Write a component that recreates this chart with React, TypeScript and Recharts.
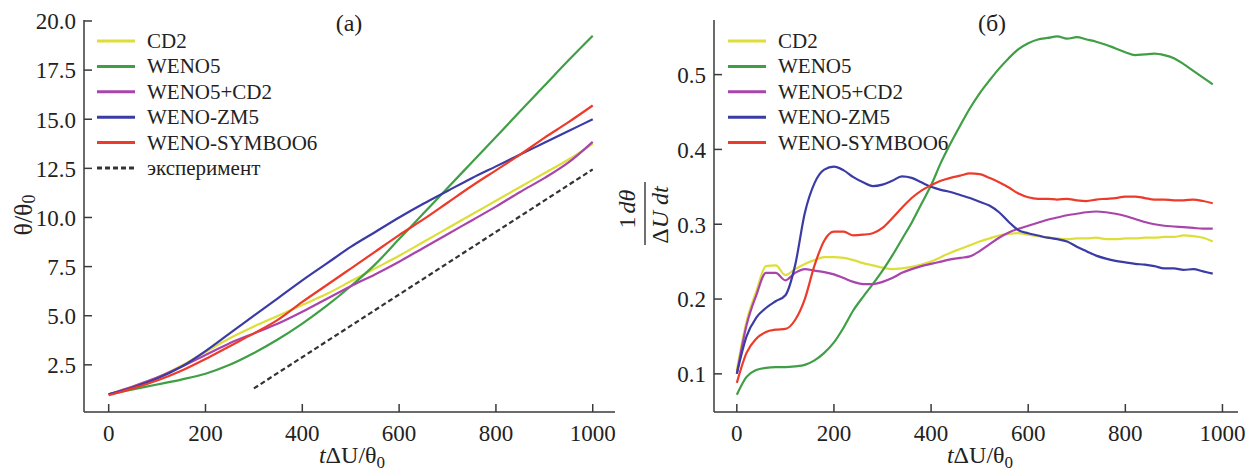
import { Legend, Line, LineChart, XAxis, YAxis } from "recharts";

// ---- panel (a): θ/θ0 vs tΔU/θ0 ----
const leftT = [0, 50, 100, 150, 200, 250, 300, 350, 400, 450, 500, 550, 600, 650, 700, 750, 800, 850, 900, 950, 1000];
const cd2Left = [1.0, 1.4, 1.85, 2.45, 3.15, 3.85, 4.45, 5.0, 5.55, 6.1, 6.75, 7.4, 8.05, 8.75, 9.45, 10.15, 10.85, 11.55, 12.25, 12.95, 13.75];
const weno5Left = [1.0, 1.25, 1.5, 1.75, 2.05, 2.5, 3.1, 3.8, 4.6, 5.5, 6.5, 7.6, 8.9, 10.2, 11.5, 12.8, 14.1, 15.4, 16.7, 18.0, 19.25];
const wenoCd2Left = [1.0, 1.4, 1.85, 2.4, 3.0, 3.6, 4.1, 4.6, 5.2, 5.85, 6.5, 7.1, 7.75, 8.45, 9.15, 9.85, 10.55, 11.3, 12.0, 12.8, 13.85];
const zm5Left = [1.0, 1.35, 1.8, 2.4, 3.2, 4.1, 5.0, 5.9, 6.8, 7.65, 8.5, 9.25, 10.0, 10.7, 11.35, 12.0, 12.6, 13.2, 13.8, 14.4, 15.0];
const symbooLeft = [0.95, 1.3, 1.7, 2.2, 2.8, 3.45, 4.1, 4.8, 5.7, 6.55, 7.4, 8.25, 9.1, 9.9, 10.75, 11.6, 12.4, 13.2, 14.05, 14.85, 15.7];
const expT = [300, 1000];
const expLeft = [1.3, 12.45];
const leftTicksX = [0, 200, 400, 600, 800, 1000];
const leftTicksY = [2.5, 5, 7.5, 10, 12.5, 15, 17.5, 20];

// ---- panel (б): (1/ΔU) dθ/dt ----
const rightT = [0, 20, 40, 60, 80, 100, 120, 140, 160, 180, 200, 220, 240, 260, 280, 300, 320, 340, 360, 380, 400, 420, 440, 460, 480, 500, 520, 540, 560, 580, 600, 620, 640, 660, 680, 700, 720, 740, 760, 780, 800, 820, 840, 860, 880, 900, 920, 940, 960, 980];
const cd2Right = [0.105, 0.17, 0.21, 0.244, 0.245, 0.232, 0.24, 0.247, 0.252, 0.256, 0.256, 0.255, 0.252, 0.248, 0.245, 0.242, 0.24, 0.241, 0.243, 0.246, 0.25, 0.256, 0.262, 0.267, 0.272, 0.277, 0.281, 0.285, 0.287, 0.288, 0.286, 0.284, 0.282, 0.281, 0.28, 0.281, 0.281, 0.282, 0.28, 0.28, 0.281, 0.281, 0.282, 0.282, 0.283, 0.283, 0.285, 0.284, 0.282, 0.277];
const weno5Right = [0.072, 0.096, 0.105, 0.108, 0.109, 0.109, 0.11, 0.112, 0.118, 0.128, 0.142, 0.162, 0.185, 0.203, 0.22, 0.238, 0.258, 0.28, 0.302, 0.327, 0.352, 0.382, 0.408, 0.432, 0.455, 0.475, 0.492, 0.508, 0.522, 0.534, 0.542, 0.547, 0.549, 0.551, 0.548, 0.55, 0.547, 0.544, 0.54, 0.535, 0.53, 0.526, 0.527, 0.528, 0.526, 0.522, 0.514, 0.505, 0.496, 0.487];
const wenoCd2Right = [0.1, 0.165, 0.205, 0.235, 0.235, 0.225, 0.235, 0.24, 0.238, 0.236, 0.233, 0.228, 0.223, 0.22, 0.22, 0.223, 0.228, 0.235, 0.24, 0.244, 0.247, 0.25, 0.253, 0.255, 0.257, 0.264, 0.273, 0.282, 0.289, 0.294, 0.298, 0.302, 0.306, 0.309, 0.312, 0.314, 0.316, 0.317, 0.316, 0.314, 0.311, 0.307, 0.303, 0.3, 0.298, 0.297, 0.296, 0.295, 0.294, 0.294];
const zm5Right = [0.1, 0.15, 0.175, 0.188, 0.197, 0.205, 0.245, 0.315, 0.355, 0.373, 0.377, 0.372, 0.363, 0.356, 0.351, 0.353, 0.358, 0.364, 0.362, 0.356, 0.35, 0.346, 0.343, 0.339, 0.335, 0.33, 0.325, 0.316, 0.303, 0.292, 0.288, 0.285, 0.282, 0.28, 0.277, 0.27, 0.264, 0.258, 0.254, 0.251, 0.249, 0.247, 0.246, 0.244, 0.241, 0.241, 0.239, 0.24, 0.237, 0.234];
const symbooRight = [0.088, 0.128, 0.147, 0.156, 0.159, 0.16, 0.172, 0.2, 0.245, 0.278, 0.29, 0.29, 0.285, 0.286, 0.288, 0.295, 0.308, 0.322, 0.335, 0.345, 0.352, 0.358, 0.362, 0.365, 0.368, 0.367, 0.362, 0.356, 0.349, 0.341, 0.336, 0.334, 0.334, 0.333, 0.334, 0.332, 0.331, 0.333, 0.334, 0.335, 0.337, 0.337, 0.335, 0.333, 0.333, 0.332, 0.332, 0.333, 0.331, 0.328];
const rightTicksX = [0, 200, 400, 600, 800, 1000];
const rightTicksY = [0.1, 0.2, 0.3, 0.4, 0.5];

const names = ["CD2", "WENO5", "WENO5+CD2", "WENO-ZM5", "WENO-SYMBOO6"];
const expName = "эксперимент";

const colors = ["#dede3a", "#3f9f45", "#a844ac", "#3b3ba6", "#ec3b2a"];
const FONT = "'Liberation Serif', 'DejaVu Serif', serif";
const AXIS = "#3a3a3a";
const TEXT = "#222";

const pts = (xs: number[], ys: number[]) => xs.map((t, i) => ({ t, v: ys[i] }));

function XTick({ x, y, payload }: any) {
  return (
    <g>
      <line x1={x} x2={x} y1={y} y2={y - 8} stroke={AXIS} strokeWidth={1.5} />
      <text x={x} y={y + 29} textAnchor="middle" fontFamily={FONT} fontSize={23} fill={TEXT}>
        {payload.value}
      </text>
    </g>
  );
}

function YTick({ x, y, payload }: any) {
  return (
    <g>
      <line x1={x} x2={x + 8} y1={y} y2={y} stroke={AXIS} strokeWidth={1.5} />
      <text x={x - 8} y={y} dy="0.36em" textAnchor="end" fontFamily={FONT} fontSize={23} fill={TEXT}>
        {Number(payload.value).toFixed(1)}
      </text>
    </g>
  );
}

function LegendBox({ dashed }: { dashed: boolean }) {
  const rows = names.map((n, i) => ({ n, c: colors[i], dash: false }));
  if (dashed) rows.push({ n: expName, c: "#333", dash: true });
  return (
    <svg width={330} height={170}>
      {rows.map((r, i) => (
        <g key={r.n} transform={`translate(0, ${12 + i * 25.4})`}>
          <line x1={0} x2={38} y1={0} y2={0} stroke={r.c} strokeWidth={3} strokeDasharray={r.dash ? "5 3" : undefined} />
          <text x={50} y={0} dy="0.33em" fontFamily={FONT} fontSize={21} fill={TEXT}>
            {r.n}
          </text>
        </g>
      ))}
    </svg>
  );
}

function XLabel({ cx }: { cx: number }) {
  return (
    <g>
      <text x={cx} y={463} textAnchor="middle" fontFamily={FONT} fontSize={24} fill={TEXT}>
        <tspan fontStyle="italic">t</tspan>ΔU/θ
        <tspan fontSize={17} dy={5}>0</tspan>
      </text>
    </g>
  );
}

export default function App() {
  const lineProps = { type: "monotone" as const, dataKey: "v", dot: false, strokeWidth: 2.2, isAnimationActive: false };
  return (
    <div style={{ position: "absolute", left: 0, top: 0, width: 1260, height: 473, background: "#fff" }}>
      <div style={{ position: "absolute", left: 0, top: 0 }}>
        <LineChart width={630} height={473} margin={{ top: 20, right: 15, bottom: 0, left: 0 }}>
          <XAxis
            type="number"
            dataKey="t"
            domain={[-51, 1046]}
            ticks={leftTicksX}
            allowDataOverflow
            height={61}
            tickSize={0}
            tickMargin={0}
            tickLine={false}
            tick={<XTick />}
            stroke={AXIS}
            strokeWidth={1.5}
            label={<XLabel cx={352} />}
          />
          <YAxis
            type="number"
            domain={[0.1, 20.05]}
            ticks={leftTicksY}
            allowDataOverflow
            width={84}
            tickSize={0}
            tickMargin={0}
            tickLine={false}
            tick={<YTick />}
            stroke={AXIS}
            strokeWidth={1.5}
            label={
              <g>
                <text transform="translate(23, 215) rotate(-90)" textAnchor="middle" dominantBaseline="central" fontFamily={FONT} fontSize={26} fill={TEXT}>
                  θ/θ<tspan fontSize={18} dy={6}>0</tspan>
                </text>
              </g>
            }
          />
          <Legend layout="vertical" align="center" verticalAlign="middle" wrapperStyle={{ left: 97, top: 29, width: 330, height: 170 }} content={() => <LegendBox dashed />} />
          <Line {...lineProps} type="linear" data={pts(expT, expLeft)} stroke="#333" strokeDasharray="5 3" name={expName} />
          <Line {...lineProps} data={pts(leftT, cd2Left)} stroke={colors[0]} name={names[0]} />
          <Line {...lineProps} data={pts(leftT, weno5Left)} stroke={colors[1]} name={names[1]} />
          <Line {...lineProps} data={pts(leftT, wenoCd2Left)} stroke={colors[2]} name={names[2]} />
          <Line {...lineProps} data={pts(leftT, zm5Left)} stroke={colors[3]} name={names[3]} />
          <Line {...lineProps} data={pts(leftT, symbooLeft)} stroke={colors[4]} name={names[4]} />
          <text x={349} y={31} textAnchor="middle" fontFamily={FONT} fontSize={24} fill={TEXT}>(a)</text>
        </LineChart>
      </div>
      <div style={{ position: "absolute", left: 600, top: 0 }}>
        <LineChart width={660} height={473} margin={{ top: 20, right: 22, bottom: 0, left: 0 }}>
          <XAxis
            type="number"
            dataKey="t"
            domain={[-47, 1032]}
            ticks={rightTicksX}
            allowDataOverflow
            height={61}
            tickSize={0}
            tickMargin={0}
            tickLine={false}
            tick={<XTick />}
            stroke={AXIS}
            strokeWidth={1.5}
            label={<XLabel cx={380} />}
          />
          <YAxis
            type="number"
            domain={[0.049, 0.573]}
            ticks={rightTicksY}
            allowDataOverflow
            width={114}
            tickSize={0}
            tickMargin={0}
            tickLine={false}
            tick={<YTick />}
            stroke={AXIS}
            strokeWidth={1.5}
            label={
              <g fontFamily={FONT} fontSize={24} fill={TEXT}>
                <text transform="translate(27, 209) rotate(-90)" textAnchor="middle" dominantBaseline="central">
                  1<tspan fontStyle="italic" dx={3}>dθ</tspan>
                </text>
                <line x1={45} x2={45} y1={182} y2={245} stroke={TEXT} strokeWidth={1.3} />
                <text transform="translate(60, 215) rotate(-90)" textAnchor="middle" dominantBaseline="central">
                  Δ<tspan fontStyle="italic">U dt</tspan>
                </text>
              </g>
            }
          />
          <Legend layout="vertical" align="center" verticalAlign="middle" wrapperStyle={{ left: 128, top: 29, width: 330, height: 170 }} content={() => <LegendBox dashed={false} />} />
          <Line {...lineProps} data={pts(rightT, cd2Right)} stroke={colors[0]} name={names[0]} />
          <Line {...lineProps} data={pts(rightT, weno5Right)} stroke={colors[1]} name={names[1]} />
          <Line {...lineProps} data={pts(rightT, wenoCd2Right)} stroke={colors[2]} name={names[2]} />
          <Line {...lineProps} data={pts(rightT, zm5Right)} stroke={colors[3]} name={names[3]} />
          <Line {...lineProps} data={pts(rightT, symbooRight)} stroke={colors[4]} name={names[4]} />
          <text x={392} y={31} textAnchor="middle" fontFamily={FONT} fontSize={24} fill={TEXT}>(б)</text>
        </LineChart>
      </div>
    </div>
  );
}
